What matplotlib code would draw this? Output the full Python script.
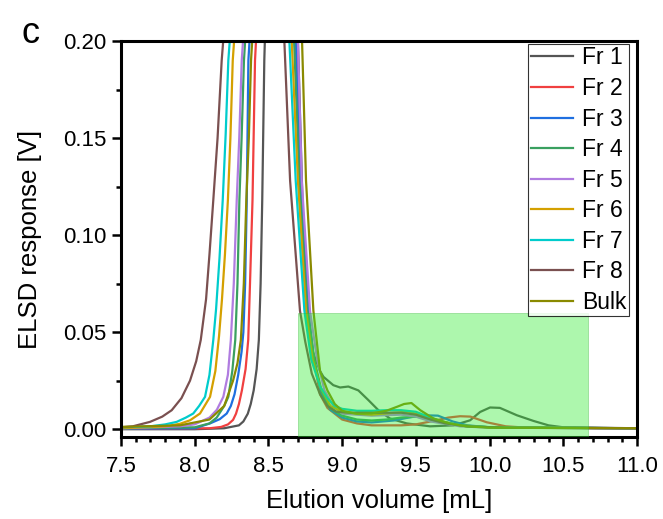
import numpy as np
import matplotlib.pyplot as plt
from matplotlib.patches import Rectangle
from matplotlib.ticker import MultipleLocator

plt.rcParams['font.family'] = ['Liberation Sans', 'DejaVu Sans']

# Traces: elution volume [mL], response [V]
fr1_x = [7.5, 8.0, 8.2, 8.3, 8.33, 8.36, 8.38, 8.40, 8.42, 8.435, 8.447, 8.458, 8.472, 8.55, 8.70, 8.73,
         8.76, 8.80, 8.85, 8.873, 8.94, 8.986, 9.042, 9.11, 9.178, 9.246, 9.325, 9.438, 9.596, 9.754, 9.868,
         9.936, 10.003, 10.07, 10.185, 10.297, 10.40, 10.5, 11.0]
fr1_y = [0.0, 0.0, 0.0005, 0.002, 0.004, 0.008, 0.013, 0.02, 0.031, 0.046, 0.075, 0.118, 0.19, 0.4, 0.2,
         0.12, 0.06, 0.04, 0.03, 0.027, 0.0227, 0.0215, 0.022, 0.020, 0.015, 0.0098, 0.0055, 0.003, 0.0015,
         0.002, 0.0046, 0.0089, 0.0112, 0.011, 0.0072, 0.0043, 0.002, 0.001, 0.0005]

fr2_x = [7.5, 8.1, 8.18, 8.226, 8.26, 8.28, 8.30, 8.32, 8.345, 8.363, 8.375, 8.392, 8.409, 8.55, 8.692,
         8.72, 8.77, 8.81, 8.85, 8.9, 9.0, 9.1, 9.2, 9.4, 9.5, 9.64, 9.72, 9.80, 9.87, 9.98, 10.11, 10.27, 11.0]
fr2_y = [0.0002, 0.0005, 0.0012, 0.0025, 0.0048, 0.008, 0.013, 0.02, 0.031, 0.046, 0.075, 0.118, 0.19, 0.4,
         0.2, 0.128, 0.061, 0.035, 0.018, 0.011, 0.005, 0.003, 0.002, 0.002, 0.0025, 0.0046, 0.006, 0.0067,
         0.0065, 0.0036, 0.0015, 0.0007, 0.0005]

fr3_x = [7.5, 8.0, 8.104, 8.17, 8.217, 8.245, 8.27, 8.295, 8.318, 8.33, 8.342, 8.353, 8.364, 8.53, 8.685,
         8.715, 8.77, 8.81, 8.86, 8.92, 9.0, 9.1, 9.2, 9.35, 9.45, 9.55, 9.65, 9.75, 9.85, 10.0, 11.0]
fr3_y = [0.0003, 0.0005, 0.003, 0.0052, 0.0081, 0.012, 0.018, 0.028, 0.04, 0.05, 0.075, 0.118, 0.19, 0.4,
         0.2, 0.128, 0.061, 0.035, 0.018, 0.01, 0.006, 0.004, 0.0035, 0.0045, 0.006, 0.0072, 0.007, 0.004,
         0.002, 0.001, 0.0005]

fr4_x = [7.5, 8.0, 8.10, 8.149, 8.20, 8.228, 8.255, 8.275, 8.29, 8.303, 8.318, 8.334, 8.50, 8.674, 8.71,
         8.765, 8.81, 8.86, 8.92, 9.0, 9.1, 9.2, 9.3, 9.4, 9.5, 9.55, 9.65, 9.8, 10.0, 11.0]
fr4_y = [0.0005, 0.001, 0.003, 0.006, 0.012, 0.0167, 0.03, 0.046, 0.075, 0.118, 0.15, 0.19, 0.4, 0.2, 0.128,
         0.061, 0.036, 0.02, 0.011, 0.007, 0.005, 0.0045, 0.005, 0.006, 0.0065, 0.006, 0.004, 0.002, 0.001,
         0.0005]

fr5_x = [7.5, 7.9, 8.0, 8.10, 8.15, 8.194, 8.225, 8.245, 8.265, 8.285, 8.302, 8.319, 8.50, 8.70, 8.726,
         8.782, 8.83, 8.88, 8.94, 9.0, 9.2, 9.4, 9.5, 9.6, 9.8, 10.0, 11.0]
fr5_y = [0.0005, 0.0015, 0.0025, 0.006, 0.01, 0.0167, 0.028, 0.046, 0.075, 0.118, 0.15, 0.19, 0.4, 0.2,
         0.128, 0.061, 0.036, 0.02, 0.012, 0.008, 0.007, 0.0075, 0.0065, 0.004, 0.0015, 0.0008, 0.0005]

fr6_x = [7.5, 7.8, 7.9, 7.968, 8.036, 8.104, 8.14, 8.165, 8.185, 8.205, 8.225, 8.242, 8.258, 8.45, 8.658,
         8.70, 8.755, 8.80, 8.85, 8.92, 9.0, 9.1, 9.2, 9.35, 9.45, 9.55, 9.65, 9.8, 10.0, 11.0]
fr6_y = [0.0005, 0.0015, 0.0028, 0.0046, 0.0081, 0.0167, 0.03, 0.048, 0.067, 0.09, 0.118, 0.15, 0.19, 0.4,
         0.2, 0.128, 0.061, 0.036, 0.022, 0.012, 0.009, 0.008, 0.0075, 0.0085, 0.009, 0.007, 0.0045, 0.002,
         0.001, 0.0005]

fr7_x = [7.5, 7.7, 7.8, 7.878, 7.94, 7.99, 8.03, 8.07, 8.10, 8.126, 8.145, 8.168, 8.19, 8.21, 8.228, 8.43,
         8.642, 8.685, 8.744, 8.79, 8.85, 8.9, 8.95, 9.0, 9.1, 9.2, 9.3, 9.4, 9.5, 9.6, 9.7, 9.85, 10.1, 11.0]
fr7_y = [0.001, 0.0015, 0.0025, 0.0038, 0.006, 0.0081, 0.012, 0.0167, 0.028, 0.046, 0.062, 0.088, 0.118,
         0.152, 0.19, 0.4, 0.2, 0.128, 0.061, 0.036, 0.022, 0.016, 0.012, 0.0105, 0.0095, 0.0095, 0.0098,
         0.0098, 0.009, 0.006, 0.0035, 0.0015, 0.0008, 0.0005]

fr8_x = [7.5, 7.58, 7.697, 7.78, 7.844, 7.91, 7.968, 8.01, 8.041, 8.077, 8.10, 8.126, 8.155, 8.183, 8.40,
         8.608, 8.647, 8.714, 8.75, 8.794, 8.85, 8.9, 8.96, 9.05, 9.2, 9.4, 9.5, 9.6, 9.7, 9.85, 10.1, 11.0]
fr8_y = [0.001, 0.0015, 0.0038, 0.0065, 0.0098, 0.016, 0.025, 0.035, 0.046, 0.067, 0.09, 0.118, 0.15, 0.19,
         0.4, 0.2, 0.128, 0.061, 0.045, 0.0287, 0.018, 0.012, 0.009, 0.0085, 0.0085, 0.0085, 0.0075, 0.005,
         0.003, 0.0015, 0.0008, 0.0005]

bulk_x = [7.5, 7.9, 8.1, 8.2, 8.26, 8.29, 8.313, 8.333, 8.35, 8.367, 8.382, 8.55, 8.728, 8.755, 8.805,
          8.85, 8.9, 8.95, 9.0, 9.1, 9.2, 9.3, 9.37, 9.42, 9.47, 9.53, 9.62, 9.73, 9.84, 10.0, 11.0]
bulk_y = [0.0012, 0.002, 0.005, 0.012, 0.025, 0.034, 0.046, 0.075, 0.118, 0.15, 0.19, 0.4, 0.2, 0.128,
          0.061, 0.03, 0.02, 0.013, 0.0095, 0.008, 0.0082, 0.0095, 0.0115, 0.013, 0.0135, 0.0098, 0.0055,
          0.003, 0.0015, 0.0008, 0.0005]

labels = ['Fr 1', 'Fr 2', 'Fr 3', 'Fr 4', 'Fr 5', 'Fr 6', 'Fr 7', 'Fr 8', 'Bulk']
colors = ['#555555', '#f04040', '#1f6fe0', '#3aa060', '#b07ce0', '#d4a000', '#00cccc', '#7a5050', '#8a8a00']
traces = [(fr1_x, fr1_y), (fr2_x, fr2_y), (fr3_x, fr3_y), (fr4_x, fr4_y), (fr5_x, fr5_y),
          (fr6_x, fr6_y), (fr7_x, fr7_y), (fr8_x, fr8_y), (bulk_x, bulk_y)]

# highlighted collection window
win_start, win_end, win_top = 8.7, 10.67, 0.06

fig = plt.figure(figsize=(6.63, 5.19), dpi=100)
ax = fig.add_axes([0.1825, 0.158, 0.7783, 0.763])

for (x, y), c, lab in zip(traces, colors, labels):
    ax.plot(x, y, color=c, lw=1.6, label=lab, zorder=2)

ax.set_xlim(7.5, 11.0)
ax.set_ylim(-0.004, 0.2)

# green window drawn over the traces, so they look tinted inside it
rect = Rectangle((win_start, -0.004), win_end - win_start, win_top + 0.004,
                 facecolor=(0.2, 0.92, 0.2), alpha=0.4, edgecolor=(0.2, 0.7, 0.2), lw=0.6, zorder=3)
ax.add_patch(rect)

ax.xaxis.set_major_locator(MultipleLocator(0.5))
ax.xaxis.set_minor_locator(MultipleLocator(0.1))
ax.yaxis.set_major_locator(MultipleLocator(0.05))
ax.yaxis.set_minor_locator(MultipleLocator(0.025))
ax.xaxis.set_major_formatter(plt.FormatStrFormatter('%.1f'))
ax.yaxis.set_major_formatter(plt.FormatStrFormatter('%.2f'))

for s in ax.spines.values():
    s.set_linewidth(2.2)
ax.tick_params(which='major', direction='out', length=6.5, width=1.8, labelsize=16, pad=4)
ax.tick_params(axis='x', which='major', pad=7)
ax.tick_params(which='minor', direction='out', length=3.6, width=1.8)
ax.tick_params(top=False, right=False, which='both')

ax.set_xlabel('Elution volume [mL]', fontsize=18.5, labelpad=9)
ax.set_ylabel('ELSD response [V]', fontsize=18.5, labelpad=15)

fig.text(0.033, 0.918, 'c', fontsize=26)

leg = ax.legend(loc='upper right', bbox_to_anchor=(0.9845, 0.992), fontsize=16.5, frameon=True,
                fancybox=False, handlelength=1.85, handletextpad=0.4, labelspacing=0.33,
                borderpad=0.1, borderaxespad=0)
leg.get_frame().set_edgecolor('black')
leg.get_frame().set_linewidth(0.8)
leg.set_zorder(5)

fig.savefig('out.png', dpi=100)
